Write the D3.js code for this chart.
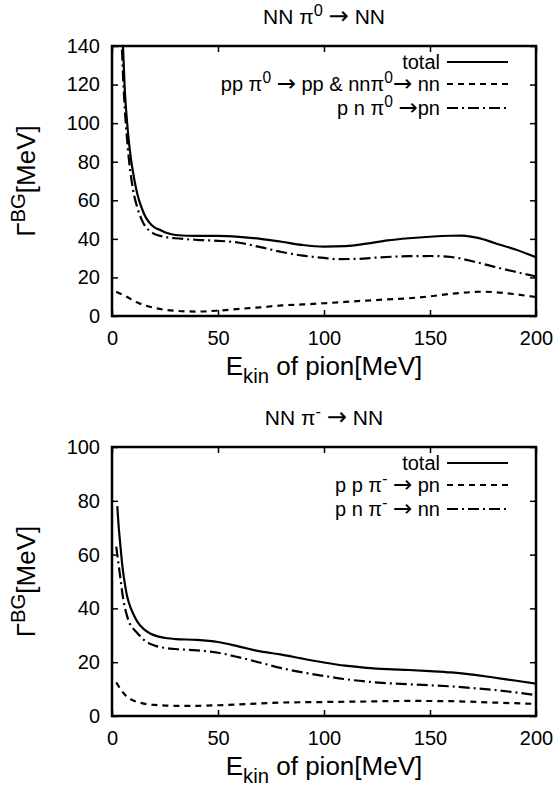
<!DOCTYPE html>
<html>
<head>
<script src="https://cdn.jsdelivr.net/npm/d3@7/dist/d3.min.js"></script>
<style>
  body { margin: 0; background: #fff; }
  svg text { font-family: "Liberation Sans", Arial, Helvetica, sans-serif; fill: #000; }
</style>
</head>
<body>
<div id="chart"></div>
<script>
(function (d3) {
  'use strict';

  // ---- data: NN pi0 -> NN (top panel) ----
  var pi0TotalE = [4, 5, 6, 7, 8, 9, 10, 12, 14, 16, 18, 20, 23, 26, 30, 40, 50, 60, 70, 80, 90, 100, 110, 120, 130, 140, 150, 160, 165, 170, 175, 180, 190, 200];
  var pi0TotalV = [170, 145, 118, 102, 90, 81, 74, 63, 56, 51, 48, 46, 44.5, 43, 42, 41.5, 41.5, 41, 40, 38.5, 36.8, 36, 36.2, 37.5, 39.2, 40.3, 41.1, 41.6, 41.7, 41, 39.8, 38, 34.6, 30.5];
  var pi0PpE = [2, 4, 7, 10, 15, 20, 25, 30, 40, 50, 60, 70, 80, 90, 100, 110, 120, 130, 140, 150, 160, 170, 175, 180, 190, 200];
  var pi0PpV = [12.6, 11.5, 10, 8, 5.7, 4.2, 3.2, 2.7, 2.3, 2.8, 3.7, 4.5, 5.5, 6, 6.6, 7.3, 8, 8.6, 9.2, 10.2, 11.5, 12.4, 12.6, 12.4, 11.3, 9.8];
  var pi0PnE = [4, 5, 6, 7, 8, 9, 10, 12, 14, 16, 18, 20, 23, 26, 30, 40, 50, 60, 70, 80, 90, 100, 106, 115, 126, 140, 150, 160, 170, 180, 190, 200];
  var pi0PnV = [160, 130, 108, 93, 81, 72, 65, 56, 50, 46, 44, 42.5, 41.5, 40.8, 40.3, 39.5, 39, 38, 35.7, 33.2, 31.3, 30.1, 29.5, 29.6, 30.4, 31, 31.1, 30.6, 28.4, 25.6, 23, 20.5];

  // ---- data: NN pi- -> NN (bottom panel) ----
  var pimTotalE = [2.5, 3, 4, 5, 6, 7, 8, 10, 12, 15, 18, 22, 26, 30, 40, 50, 60, 70, 80, 90, 100, 110, 120, 130, 140, 150, 160, 170, 180, 190, 200];
  var pimTotalV = [78, 72, 63, 55, 49.5, 45, 42, 38, 35, 32.3, 30.7, 29.5, 28.9, 28.6, 28.3, 27.5, 25.8, 24, 22.8, 21.3, 19.9, 18.7, 17.9, 17.4, 17.1, 16.7, 16.2, 15.4, 14.3, 13.2, 12];
  var pimPpE = [2, 4, 7, 10, 15, 20, 30, 40, 50, 60, 70, 80, 100, 120, 140, 160, 180, 200];
  var pimPpV = [12.5, 10, 7.2, 5.8, 4.6, 4.1, 3.8, 3.8, 4, 4.3, 4.7, 5, 5.2, 5.4, 5.6, 5.5, 5, 4.5];
  var pimPnE = [2, 3, 4, 5, 6, 7, 8, 10, 12, 15, 20, 25, 30, 40, 50, 60, 70, 80, 90, 100, 110, 120, 130, 140, 150, 160, 170, 180, 190, 200];
  var pimPnV = [63, 57, 51, 45, 40.5, 37.5, 35, 32.5, 30.8, 28.3, 26.2, 25.3, 24.9, 24.4, 23.5, 21.8, 19.8, 17.8, 16.2, 14.9, 13.7, 12.8, 12.2, 11.8, 11.4, 11, 10.4, 9.7, 8.8, 7.8];

  var xTicks = [0, 50, 100, 150, 200];
  var yTicksTop = [0, 20, 40, 60, 80, 100, 120, 140];
  var yTicksBottom = [0, 20, 40, 60, 80, 100];

  // rich text parts: [text, mode]  mode: '' | 'sup' | 'sub' | 'arr'
  var panels = [
    {
      top: 46, bottom: 316, ymax: 140, yTicks: yTicksTop,
      title: [['NN π', ''], ['0', 'sup'], [' ', ''], ['→', 'arr'], [' NN', '']],
      series: [
        { e: pi0TotalE, v: pi0TotalV, dash: null, label: [['total', '']] },
        { e: pi0PpE, v: pi0PpV, dash: '6,5', label: [['pp π', ''], ['0', 'sup'], [' ', ''], ['→', 'arr'], [' pp & nnπ', ''], ['0', 'sup'], ['→', 'arr'], [' nn', '']] },
        { e: pi0PnE, v: pi0PnV, dash: '11,4,2,4', label: [['p n π', ''], ['0', 'sup'], [' ', ''], ['→', 'arr'], ['pn', '']] }
      ]
    },
    {
      top: 447, bottom: 716, ymax: 100, yTicks: yTicksBottom,
      title: [['NN π', ''], ['-', 'sup'], [' ', ''], ['→', 'arr'], [' NN', '']],
      series: [
        { e: pimTotalE, v: pimTotalV, dash: null, label: [['total', '']] },
        { e: pimPpE, v: pimPpV, dash: '6,5', label: [['p p π', ''], ['-', 'sup'], [' ', ''], ['→', 'arr'], [' pn', '']] },
        { e: pimPnE, v: pimPnV, dash: '11,4,2,4', label: [['p n π', ''], ['-', 'sup'], [' ', ''], ['→', 'arr'], [' nn', '']] }
      ]
    }
  ];

  var width = 558, height = 791;
  var left = 112, right = 536;

  var svg = d3.select('#chart').append('svg')
    .attr('width', width).attr('height', height);
  svg.append('rect').attr('width', width).attr('height', height).attr('fill', '#fff');

  function rich(sel, parts, size) {
    var shift = 0;
    parts.forEach(function (p) {
      var t = sel.append('tspan').text(p[0]);
      var target = p[1] === 'sup' ? -0.38 * size : (p[1] === 'sub' ? 0.3 * size : 0);
      t.attr('dy', target - shift);
      var fs = size;
      if (p[1] === 'sup' || p[1] === 'sub') fs = size * 0.78;
      if (p[1] === 'arr') {
        fs = size * 1.15;
        t.attr('font-family', '"DejaVu Sans", sans-serif');
      }
      t.attr('font-size', fs);
      shift = target;
    });
  }

  var x = d3.scaleLinear().domain([0, 200]).range([left, right]);

  panels.forEach(function (p, pi) {
    var y = d3.scaleLinear().domain([0, p.ymax]).range([p.bottom, p.top]);
    var g = svg.append('g');

    var clipId = 'clip' + pi;
    svg.append('clipPath').attr('id', clipId).append('rect')
      .attr('x', left).attr('y', p.top)
      .attr('width', right - left).attr('height', p.bottom - p.top);

    // axes with inward ticks, mirrored on top/right
    g.append('g').attr('transform', 'translate(0,' + p.bottom + ')')
      .call(d3.axisBottom(x).tickValues(xTicks).tickSize(-6).tickPadding(15));
    g.append('g').attr('transform', 'translate(' + left + ',0)')
      .call(d3.axisLeft(y).tickValues(p.yTicks).tickSize(-6).tickPadding(12));
    g.append('g').attr('transform', 'translate(0,' + p.top + ')')
      .call(d3.axisTop(x).tickValues(xTicks).tickSize(-6).tickFormat(''));
    g.append('g').attr('transform', 'translate(' + right + ',0)')
      .call(d3.axisRight(y).tickValues(p.yTicks).tickSize(-6).tickFormat(''));
    g.selectAll('.domain').remove();
    g.selectAll('.tick line').attr('stroke', '#000').attr('stroke-width', 1.5);
    g.selectAll('.tick text').attr('font-size', 20)
      .attr('font-family', '"Liberation Sans", Arial, Helvetica, sans-serif');

    // curves
    var line = d3.line()
      .x(function (d) { return x(d[0]); })
      .y(function (d) { return y(d[1]); })
      .curve(d3.curveMonotoneX);
    var cg = g.append('g').attr('clip-path', 'url(#' + clipId + ')');
    p.series.forEach(function (s) {
      var pts = s.e.map(function (e, i) { return [e, s.v[i]]; });
      cg.append('path').datum(pts)
        .attr('d', line)
        .attr('fill', 'none')
        .attr('stroke', '#000')
        .attr('stroke-width', 2.2)
        .attr('stroke-dasharray', s.dash);
    });

    // border
    g.append('rect')
      .attr('x', left).attr('y', p.top)
      .attr('width', right - left).attr('height', p.bottom - p.top)
      .attr('fill', 'none').attr('stroke', '#000').attr('stroke-width', 2.5);

    // legend
    var rows = [16, 38, 62];
    p.series.forEach(function (s, i) {
      var ly = p.top + rows[i];
      var t = g.append('text').attr('x', 440).attr('y', ly + 6.5)
        .attr('text-anchor', 'end').attr('font-size', 20);
      rich(t, s.label, 20);
      g.append('line')
        .attr('x1', 447).attr('x2', 508).attr('y1', ly).attr('y2', ly)
        .attr('stroke', '#000').attr('stroke-width', 2.2)
        .attr('stroke-dasharray', s.dash);
    });

    // title
    var tt = g.append('text').attr('x', 324).attr('y', p.top - 22)
      .attr('text-anchor', 'middle').attr('font-size', 21);
    rich(tt, p.title, 21);

    // x label
    var xl = g.append('text').attr('x', 324).attr('y', p.bottom + 59)
      .attr('text-anchor', 'middle').attr('font-size', 26);
    rich(xl, [['E', ''], ['kin', 'sub'], [' of pion[MeV]', '']], 26);

    // y label
    var yl = g.append('text')
      .attr('transform', 'translate(35,' + ((p.top + p.bottom) / 2) + ') rotate(-90)')
      .attr('text-anchor', 'middle').attr('font-size', 26);
    rich(yl, [['Γ', ''], ['BG', 'sup'], ['[MeV]', '']], 26);
  });

})(window.d3);
</script>
</body>
</html>
